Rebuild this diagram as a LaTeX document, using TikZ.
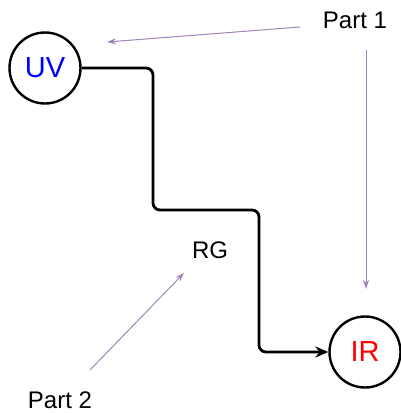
\documentclass[tikz,border=0pt]{standalone}
\usepackage{fontspec}
\setmainfont{Liberation Sans}
\usetikzlibrary{arrows.meta}
\definecolor{note}{HTML}{9E84B8}
\begin{document}
\begin{tikzpicture}[x=1pt,y=-1pt,
  station/.style={circle,draw=black,line width=2.4pt,minimum size=71pt,inner sep=0pt,font=\fontsize{29}{32}\selectfont},
  label/.style={font=\fontsize{24}{28}\selectfont,inner sep=1pt},
  route/.style={line width=2.8pt,rounded corners=7pt},
  pointer/.style={draw=note,line width=1pt,-{Stealth[length=9pt,width=6pt]}}]
  \useasboundingbox (0,0) rectangle (400,413);
  \node[station,text=blue] (uv) at (45,68) {UV};
  \node[station,text=red] (ir) at (365,352) {IR};
  \node[label] (rg) at (210,250) {RG};
  \node[label] (p1) at (355,20) {Part 1};
  \node[label] (p2) at (60,400) {Part 2};
  % main route
  \draw[route,-{Stealth[length=13pt,width=11pt]}] (uv.east) -- (153,68) -- (153,210) -- (259,210) -- (259,352) -- (ir.west);
  % annotations
  \coordinate (a1s) at (300,27);
  \coordinate (a1e) at (107,42);
  \coordinate (a2s) at (366,50);
  \coordinate (a2e) at (366,289);
  \coordinate (a3s) at (90,370);
  \coordinate (a3e) at (184,273);
  \draw[pointer] (a1s) -- (a1e);
  \draw[pointer] (a2s) -- (a2e);
  \draw[pointer] (a3s) -- (a3e);
\end{tikzpicture}
\end{document}
